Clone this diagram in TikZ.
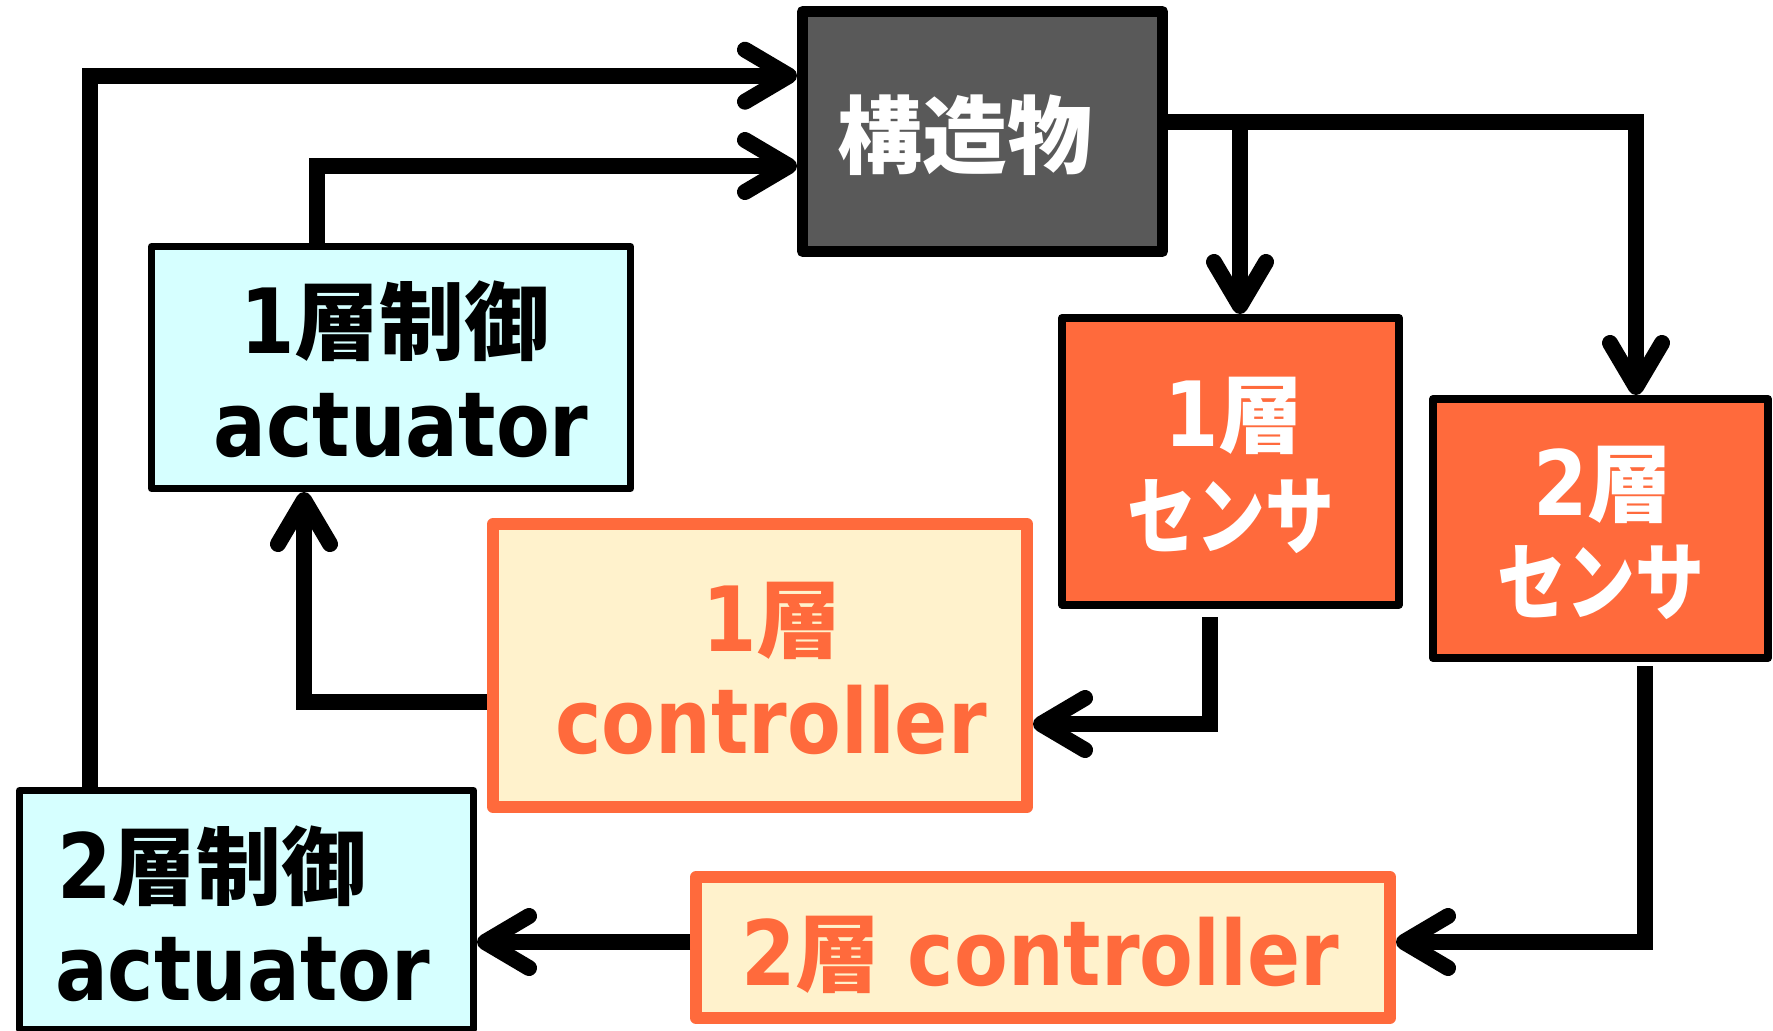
\documentclass[tikz,border=0pt]{standalone}
\usepackage{fontspec}
\usepackage{graphicx}
\usetikzlibrary{arrows.meta}
\newfontfamily\jpfont{Noto Sans CJK JP}
\newfontfamily\latfont{DejaVu Sans}[FakeStretch=0.87]
\newcommand\jpt[1]{{\jpfont\bfseries\fontsize{85}{90}\selectfont #1}}
\newcommand\kana[1]{\scalebox{0.81}[1]{\jpt{#1}}}
\newcommand\ltn[1]{{\latfont\bfseries\fontsize{90}{95}\selectfont #1}}
\definecolor{orng}{HTML}{FF6A3C}
\definecolor{dgray}{HTML}{595959}
\definecolor{acyan}{HTML}{D6FFFF}
\definecolor{cream}{HTML}{FFF2CC}
\tikzset{
  box/.style={draw, inner sep=0pt, outer sep=0.5\pgflinewidth, line join=round},
  lbl/.style={inner sep=0pt, outer sep=0pt},
  conn/.style={draw=black, line width=16pt, line join=miter},
  arr/.style={-{Straight Barb[round,length=44pt,width=52pt]}}
}
\begin{document}
\begin{tikzpicture}[x=1pt,y=-1pt]
\useasboundingbox[fill=white] (0,0) rectangle (1773,1031);

% boxes
\node[box, fill=dgray, line width=11pt, minimum width=360pt, minimum height=240pt] (struct) at (982.5,131.5) {};
\node[box, fill=acyan, line width=7pt, minimum width=479pt, minimum height=242pt] (act1) at (391,367.5) {};
\node[box, fill=orng, line width=8pt, minimum width=337pt, minimum height=286.5pt] (sens1) at (1230.5,461.25) {};
\node[box, fill=orng, line width=8pt, minimum width=335pt, minimum height=259pt] (sens2) at (1600.5,528.5) {};
\node[box, fill=cream, draw=orng, line width=12pt, minimum width=534pt, minimum height=283pt] (ctrl1) at (760,665.5) {};
\node[box, fill=cream, draw=orng, line width=12pt, minimum width=694pt, minimum height=141pt] (ctrl2) at (1043,947.5) {};
\node[box, fill=acyan, line width=7pt, minimum width=454pt, minimum height=239pt] (act2) at (246.5,910) {};

% texts
\node[lbl, text=white] (structt) at (965,135) {\jpt{構造物}};
\node[lbl, anchor=base] (act1a) at (395,353) {\ltn{1}\jpt{層制御}};
\node[lbl, anchor=base] (act1b) at (401,456) {\ltn{actuator}};
\node[lbl, anchor=base west] (act2a) at (57,898) {\ltn{2}\jpt{層制御}};
\node[lbl, anchor=base west] (act2b) at (55,1000) {\ltn{actuator}};
\node[lbl, anchor=base, text=white] (sens1a) at (1234,446) {\ltn{1}\jpt{層}};
\node[lbl, text=white] (sens1b) at (1231,516) {\kana{センサ}};
\node[lbl, anchor=base, text=white] (sens2a) at (1603,515) {\ltn{2}\jpt{層}};
\node[lbl, text=white] (sens2b) at (1601,582) {\kana{センサ}};
\node[lbl, anchor=base, text=orng] (ctrl1a) at (772,651) {\ltn{1}\jpt{層}};
\node[lbl, anchor=base, text=orng] (ctrl1b) at (771,753) {\ltn{controller}};
\node[lbl, anchor=base, text=orng] (ctrl2a) at (1040,985) {\ltn{2}\jpt{層}\ltn{ controller}};

% connectors
\draw[conn, arr] ([xshift=-156.5pt]act2.north) |- ([yshift=55.8pt]struct.west);
\draw[conn, arr] ([xshift=-74pt]act1.north) |- ([yshift=-34.5pt]struct.west);
\coordinate (sout) at ([yshift=9.5pt]struct.east);
\coordinate (s1in) at ([xshift=9.5pt]sens1.north);
\draw[conn, arr] (sout) -| ([xshift=35.5pt]sens2.north);
\draw[conn, arr] (s1in |- sout) -- (s1in);
\draw[conn, arr] ([xshift=-20.5pt,yshift=-8.5pt]sens1.south) |- ([yshift=-58.5pt]ctrl1.east);
\draw[conn, arr] ([yshift=-36.5pt]ctrl1.west) -| ([xshift=-87pt]act1.south);
\draw[conn, arr] ([xshift=44.5pt,yshift=-4pt]sens2.south) |- ([yshift=5.5pt]ctrl2.east);
\draw[conn, arr] ([yshift=5.5pt]ctrl2.west) -- ([yshift=-32pt]act2.east);
\end{tikzpicture}
\end{document}
